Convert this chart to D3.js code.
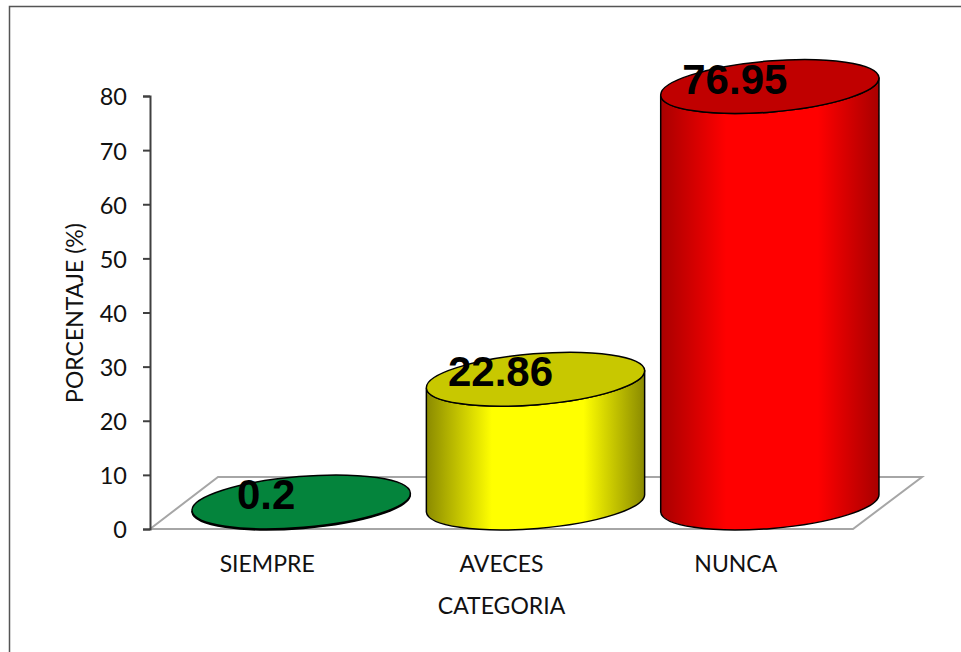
<!DOCTYPE html>
<html>
<head>
<meta charset="utf-8">
<script src="https://d3js.org/d3.v7.min.js"></script>
<style>
  html, body { margin: 0; padding: 0; background: #fff; }
  svg { display: block; }
  .tick text, .cat, .axis-title { font-family: Lato, sans-serif; fill: #111; }
  .val { font-family: "Liberation Sans", Arial, sans-serif; font-weight: bold; fill: #000; }
</style>
</head>
<body>
<div id="chart"></div>
<script>
var categories = ['SIEMPRE', 'AVECES', 'NUNCA'];
var values = [0.2, 22.86, 76.95];
var valueLabels = ['0.2', '22.86', '76.95'];
var yTicks = [0, 10, 20, 30, 40, 50, 60, 70, 80];
var topColors = ['#04843c', '#c8c800', '#c00000'];
var edgeColors = ['#02651f', '#8a8a00', '#a80000'];
var midColors = ['#04a04a', '#ffff00', '#ff0000'];

var width = 961, height = 652;
var margin = {top: 96, right: 108, bottom: 123, left: 150};
var depthX = 68, depthY = 52;      // floor is drawn as a slanted plane

var svg = d3.select('#chart').append('svg')
    .attr('width', width)
    .attr('height', height);

// frame, only top and left show in the picture
svg.append('path')
    .attr('d', 'M9.5,' + height + 'V6.5H' + width)
    .attr('fill', 'none')
    .attr('stroke', '#555')
    .attr('stroke-width', 1.5);

var x = d3.scaleBand()
    .domain(categories)
    .range([margin.left, width - margin.right]);

var y = d3.scaleLinear()
    .domain([0, 80])
    .range([height - margin.bottom, margin.top]);

// floor
var x0 = x.range()[0], x1 = x.range()[1], y0 = y(0);
svg.append('path')
    .attr('d', 'M' + x0 + ',' + y0 + 'L' + (x0 + depthX) + ',' + (y0 - depthY) +
        'H' + (x1 + depthX + 1) + 'L' + x1 + ',' + y0 + 'Z')
    .attr('fill', 'none')
    .attr('stroke', '#a6a6a6')
    .attr('stroke-width', 2);

// y axis
var axis = svg.append('g')
    .attr('class', 'axis-y')
    .attr('transform', 'translate(' + margin.left + ',0)')
    .call(d3.axisLeft(y).tickValues(yTicks).tickSize(7).tickSizeOuter(7).tickPadding(16));

axis.selectAll('path, line')
    .attr('stroke', '#404040')
    .attr('stroke-width', 2);
axis.selectAll('text')
    .attr('dy', '0.38em')
    .style('font-size', '23.5px');

// category labels
svg.selectAll('.cat')
    .data(categories)
    .enter().append('text')
    .attr('class', 'cat')
    .attr('x', d => x(d) + x.bandwidth() / 2)
    .attr('y', 572)
    .attr('text-anchor', 'middle')
    .style('font-size', '23px')
    .text(d => d);

svg.append('text')
    .attr('class', 'axis-title')
    .attr('x', x(categories[1]) + x.bandwidth() / 2)
    .attr('y', 614)
    .attr('text-anchor', 'middle')
    .style('font-size', '23px')
    .text('CATEGORIA');

svg.append('text')
    .attr('class', 'axis-title')
    .attr('transform', 'translate(83,313) rotate(-90)')
    .attr('text-anchor', 'middle')
    .style('font-size', '23px')
    .text('PORCENTAJE (%)');

// cylinders
var rx = 109.5, ry = 25.5, tilt = -4.7;
var dx = rx * Math.cos(tilt * Math.PI / 180),
    dy = rx * Math.sin(tilt * Math.PI / 180);

var defs = svg.append('defs');
categories.forEach(function(c, i) {
    var g = defs.append('linearGradient')
        .attr('id', 'body' + i)
        .attr('x1', 0).attr('x2', 1).attr('y1', 0).attr('y2', 0);
    g.append('stop').attr('offset', '0%').attr('stop-color', edgeColors[i]);
    g.append('stop').attr('offset', '30%').attr('stop-color', midColors[i]);
    g.append('stop').attr('offset', '72%').attr('stop-color', midColors[i]);
    g.append('stop').attr('offset', '100%').attr('stop-color', edgeColors[i]);
});

function centerX(i) {
    return x(categories[i]) + x.bandwidth() / 2 + depthX / 2;
}

var arc = 'A' + rx + ',' + ry + ' ' + tilt + ' 0 ';

var bars = svg.selectAll('.bar')
    .data(values)
    .enter().append('g')
    .attr('class', 'bar');

bars.append('path')
    .attr('d', function(d, i) {
        var cx = centerX(i),
            base = y(0) - depthY / 2,
            top = y(d) - depthY / 2;
        return 'M' + (cx - dx) + ',' + (top - dy) +
            'L' + (cx - dx) + ',' + (base - dy) +
            arc + '0 ' + (cx + dx) + ',' + (base + dy) +
            'L' + (cx + dx) + ',' + (top + dy) +
            arc + '1 ' + (cx - dx) + ',' + (top - dy) + 'Z';
    })
    .attr('fill', (d, i) => 'url(#body' + i + ')')
    .attr('stroke', '#000')
    .attr('stroke-width', 1.5);

bars.append('ellipse')
    .attr('cx', 0).attr('cy', 0)
    .attr('rx', rx).attr('ry', ry)
    .attr('transform', (d, i) => 'translate(' + centerX(i) + ',' + (y(d) - depthY / 2) + ') rotate(' + tilt + ')')
    .attr('fill', (d, i) => topColors[i])
    .attr('stroke', '#000')
    .attr('stroke-width', 1.5);

// data labels
svg.selectAll('.val')
    .data(values)
    .enter().append('text')
    .attr('class', 'val')
    .attr('x', (d, i) => x(categories[i]) + x.bandwidth() / 2 - 1)
    .attr('y', d => y(d) - 19)
    .attr('text-anchor', 'middle')
    .style('font-size', '42px')
    .text((d, i) => valueLabels[i]);
</script>
</body>
</html>
